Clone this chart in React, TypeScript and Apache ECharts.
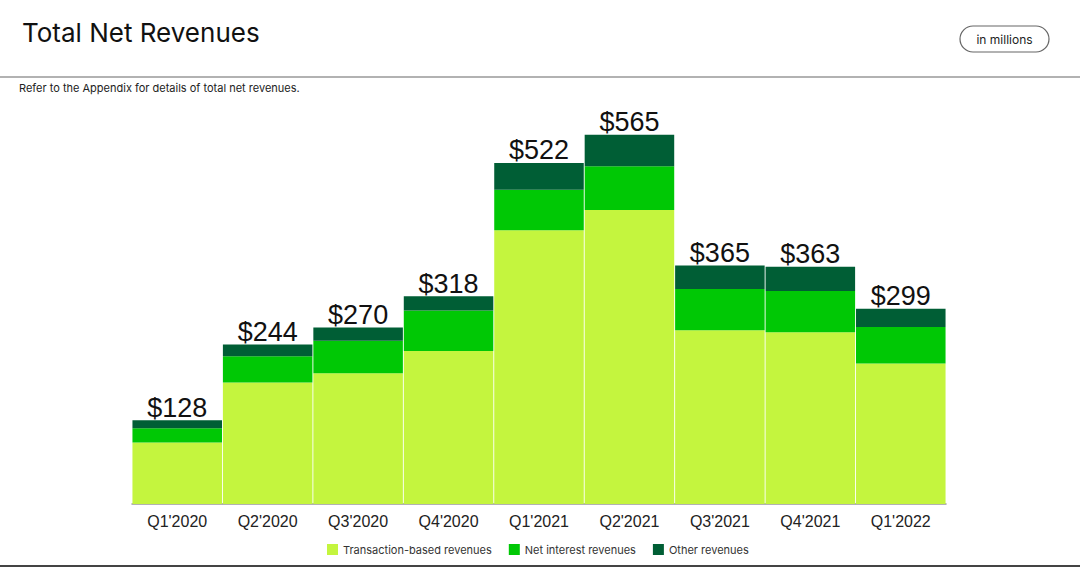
import React, { useEffect, useRef } from "react";
import * as echarts from "echarts";

const categories = ["Q1'2020", "Q2'2020", "Q3'2020", "Q4'2020", "Q1'2021", "Q2'2021", "Q3'2021", "Q4'2021", "Q1'2022"];
const transactionBased = [94, 186, 200, 234, 419, 450, 266, 263, 215];
const netInterest = [22, 40, 50, 62, 62, 67, 63, 63, 56];
const otherRevenues = [12, 18, 20, 22, 41, 48, 36, 37, 28];
const totals = [128, 244, 270, 318, 522, 565, 365, 363, 299];
const seriesNames = ["Transaction-based revenues", "Net interest revenues", "Other revenues"];
const colors = ["#C4F53E", "#00C805", "#005E35"];

export default function App() {
  const ref = useRef<HTMLDivElement>(null);
  useEffect(() => {
    if (!ref.current) return;
    const chart = echarts.init(ref.current, undefined, { renderer: "svg" });
    const sansA = "'Liberation Sans', Arial, sans-serif";
    const sansB = "Inter, 'Noto Sans', sans-serif";
    const data = [transactionBased, netInterest, otherRevenues];
    chart.setOption({
      animation: false,
      backgroundColor: "#ffffff",
      grid: { left: 132, right: 134, top: 112, bottom: 64, containLabel: false },
      legend: {
        data: seriesNames,
        left: 327,
        top: 544,
        padding: 0,
        icon: "rect",
        itemWidth: 11,
        itemHeight: 11,
        itemGap: 17,
        textStyle: { fontFamily: sansB, fontSize: 11, color: "#333" },
      },
      xAxis: {
        type: "category",
        data: categories,
        axisLine: { lineStyle: { color: "#999", width: 1.5 } },
        axisTick: { show: false },
        axisLabel: { fontFamily: sansA, fontSize: 16, color: "#222", margin: 9 },
      },
      yAxis: { type: "value", min: 0, max: 600, show: false, splitLine: { show: false } },
      series: data.map((d, i) => ({
        name: seriesNames[i],
        type: "bar",
        stack: "total",
        data: d,
        barWidth: "99%",
        barCategoryGap: "0%",
        itemStyle: { color: colors[i] },
        label:
          i === 2
            ? {
                show: true,
                position: "top",
                distance: -1,
                fontFamily: sansA,
                fontSize: 27,
                color: "#111",
                formatter: (p: any) => "$" + totals[p.dataIndex],
              }
            : { show: false },
      })),
      graphic: [
        {
          type: "text",
          left: 22,
          top: 19,
          style: { text: "Total Net Revenues", fontFamily: sansB, fontSize: 26, fill: "#111" },
        },
        {
          type: "line",
          shape: { x1: 0, y1: 77, x2: 1080, y2: 77 },
          style: { stroke: "#999", lineWidth: 1.5 },
        },
        {
          type: "text",
          left: 19,
          top: 82,
          style: { text: "Refer to the Appendix for details of total net revenues.", fontFamily: sansB, fontSize: 11, fill: "#222" },
        },
        {
          type: "rect",
          shape: { x: 960, y: 26, width: 89, height: 26, r: 13 },
          style: { fill: "#fff", stroke: "#666", lineWidth: 1.2 },
        },
        {
          type: "text",
          x: 1004.5,
          y: 39,
          style: { text: "in millions", fontFamily: sansB, fontSize: 12, fill: "#222", align: "center", verticalAlign: "middle" },
        },
        {
          type: "line",
          shape: { x1: 0, y1: 566, x2: 1080, y2: 566 },
          style: { stroke: "#444", lineWidth: 2 },
        },
      ],
    });
    return () => chart.dispose();
  }, []);
  return <div ref={ref} style={{ position: "fixed", left: 0, top: 0, width: 1080, height: 568 }} />;
}
